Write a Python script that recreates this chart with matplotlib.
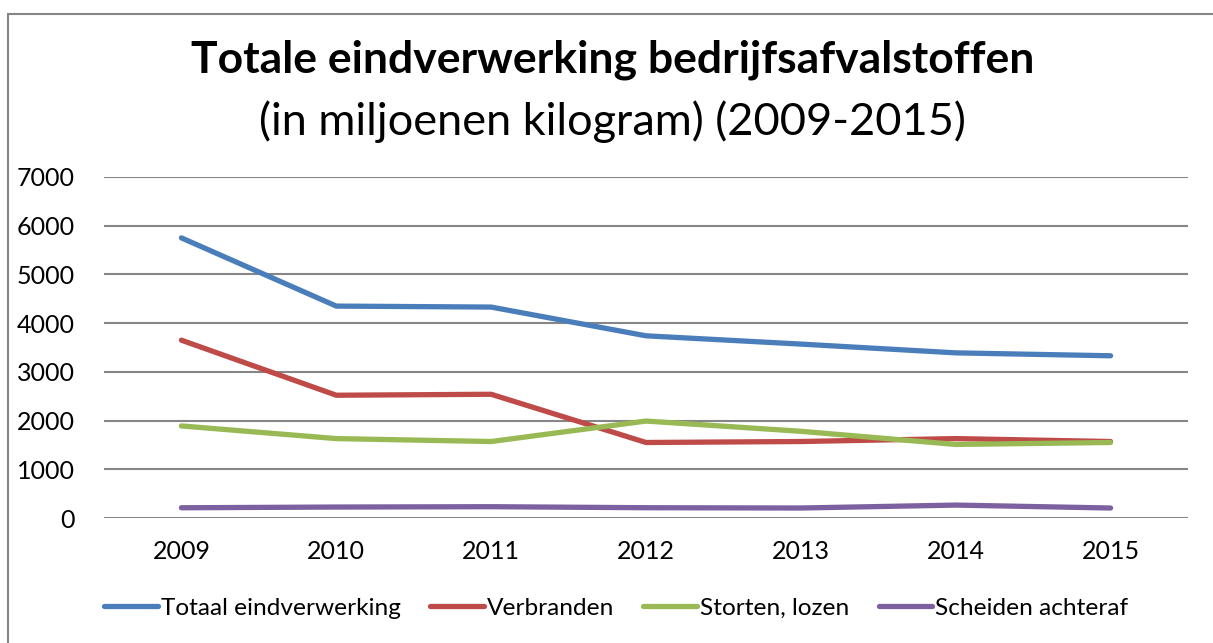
import matplotlib.pyplot as plt
from matplotlib.patches import Rectangle

# Data
years = ['2009', '2010', '2011', '2012', '2013', '2014', '2015']
totaal = [5750, 4350, 4330, 3740, 3570, 3390, 3330]
verbranden = [3650, 2520, 2540, 1550, 1570, 1630, 1570]
storten = [1890, 1630, 1570, 1990, 1780, 1510, 1550]
scheiden = [210, 225, 232, 211, 205, 265, 205]

labels = ['Totaal eindverwerking', 'Verbranden', 'Storten, lozen', 'Scheiden achteraf']
colors = ['#4a7ebb', '#be4b48', '#98b954', '#7d60a0']

plt.rcParams['font.family'] = ['Lato', 'DejaVu Sans']

fig = plt.figure(figsize=(12.13, 6.43), dpi=100)
ax = fig.add_axes([104 / 1213, 1 - 518 / 643, (1188 - 104) / 1213, (518 - 177) / 643])

x = range(len(years))
for series, lab, col in zip([totaal, verbranden, storten, scheiden], labels, colors):
    ax.plot(x, series, color=col, lw=3.8, label=lab,
            solid_capstyle='round', solid_joinstyle='round', zorder=3)

ax.set_xlim(-0.5, len(years) - 0.5)
ax.set_ylim(0, 7000)
ax.set_yticks(range(0, 7001, 1000))
ax.set_xticks(list(x))
ax.set_xticklabels(years)
ax.grid(axis='y', color='#868686', lw=1.5)
ax.set_axisbelow(True)
for s in ax.spines.values():
    s.set_visible(False)
ax.tick_params(length=0, labelsize=18, colors='black')
ax.tick_params(axis='x', pad=16)
ax.tick_params(axis='y', pad=21)

# title
fig.text(0.505, 1 - 60 / 643, 'Totale eindverwerking bedrijfsafvalstoffen',
         ha='center', va='center', fontsize=32, fontweight='bold')
fig.text(0.505, 1 - 122 / 643, '(in miljoenen kilogram) (2009-2015)',
         ha='center', va='center', fontsize=32.5)

# legend
leg = fig.legend(loc='center', bbox_to_anchor=(0.508, 1 - 608 / 643), ncol=4,
                 frameon=False, handlelength=2.2, handletextpad=0.12,
                 columnspacing=1.2, fontsize=17.6)

# chart border
fig.patches.append(Rectangle((8 / 1213, -0.1), 1.2, 1 - 14 / 643 + 0.1,
                             transform=fig.transFigure, fill=False,
                             edgecolor='#868686', lw=1.5))

fig.savefig('out.png', dpi=100)
